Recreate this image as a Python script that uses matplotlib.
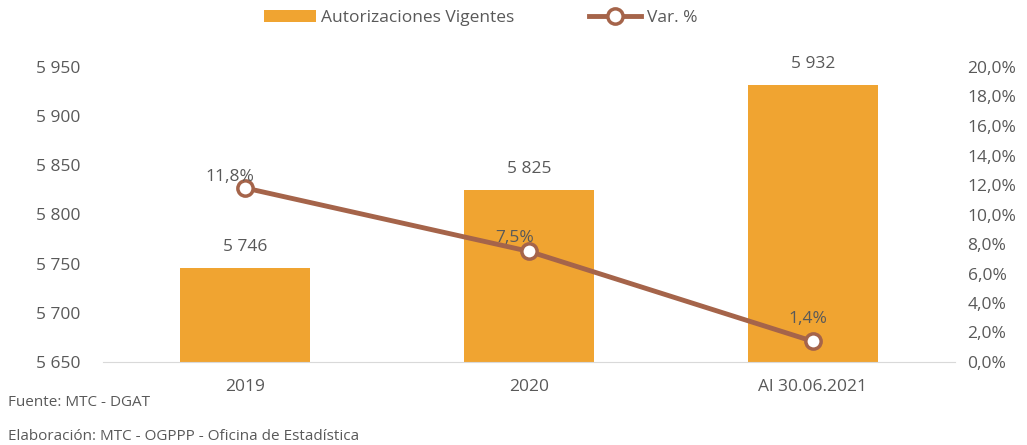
import matplotlib.pyplot as plt
from matplotlib.ticker import FuncFormatter

# === datos ===
categorias = ["2019", "2020", "Al 30.06.2021"]
autorizaciones = [5746, 5825, 5932]
variacion = [11.8, 7.5, 1.4]

bar_color = "#F0A431"
line_color = "#A5644A"
text_color = "#595959"

plt.rcParams["font.family"] = ["Open Sans", "DejaVu Sans"]

fig = plt.figure(figsize=(10.27, 4.45), dpi=100)
ax = fig.add_axes([103 / 1027, 1 - 362 / 445, 852 / 1027, 295 / 445])
ax2 = ax.twinx()

x = range(len(categorias))
bars = ax.bar(x, autorizaciones, width=0.46, color=bar_color, zorder=2,
              label="Autorizaciones Vigentes")
ax.set_ylim(5650, 5950)
ax.set_xlim(-0.5, 2.5)
ax.set_yticks(range(5650, 5951, 50))
miles = lambda v, p: f"{int(v):,}".replace(",", " ")
ax.yaxis.set_major_formatter(FuncFormatter(miles))
ax.set_xticks(list(x))
ax.set_xticklabels(categorias)

for i, v in enumerate(autorizaciones):
    ax.annotate(miles(v, None), (i, v), xytext=(0, 9), textcoords="offset points",
                ha="center", va="bottom", fontsize=12.5, color=text_color)

line, = ax2.plot(list(x), variacion, color=line_color, linewidth=3.5, marker="o",
                 markersize=11, markerfacecolor="white", markeredgecolor=line_color,
                 markeredgewidth=2.5, zorder=3, label="Var. %")
ax2.set_ylim(0, 20)
ax2.set_yticks(range(0, 21, 2))
ax2.yaxis.set_major_formatter(FuncFormatter(lambda v, p: f"{v:.1f}%".replace(".", ",")))

# desplazamiento de cada etiqueta de la línea (puntos)
offsets = [(-11, 2), (-10, 4), (-4, 10)]
for i, v in enumerate(variacion):
    ax2.annotate(f"{v:.1f}%".replace(".", ","), (i, v), xytext=offsets[i],
                 textcoords="offset points", ha="center", va="bottom",
                 fontsize=12.5, color=text_color)

for a in (ax, ax2):
    for s in a.spines.values():
        s.set_visible(False)
    a.tick_params(length=0, labelsize=12.5, labelcolor=text_color)
ax.spines["bottom"].set_visible(True)
ax.spines["bottom"].set_color("#D9D9D9")
ax.tick_params(axis="y", pad=16.5)
ax.tick_params(axis="x", pad=12)
ax2.tick_params(axis="y", pad=9)

fig.legend(handles=[bars, line], loc="upper center", bbox_to_anchor=(0.468, 1.012),
           ncol=2, frameon=False, fontsize=12.5, labelcolor=text_color,
           handlelength=3.0, handletextpad=0.3, columnspacing=4.3)

fig.text(8 / 1027, 1 - 402 / 445, "Fuente: MTC - DGAT", fontsize=11,
         color=text_color, va="center")
fig.text(8 / 1027, 1 - 436 / 445, "Elaboración: MTC - OGPPP - Oficina de Estadística",
         fontsize=11, color=text_color, va="center")

fig.savefig("out.png", dpi=100)
